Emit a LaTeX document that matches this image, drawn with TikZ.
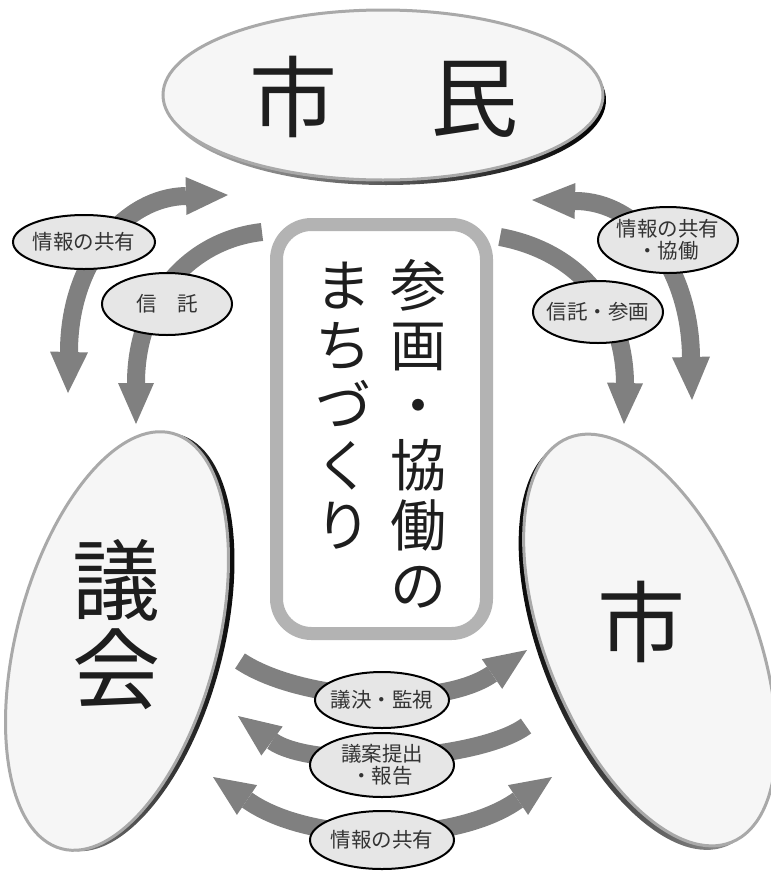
\documentclass[tikz,border=0pt]{standalone}
\usepackage{fontspec}
\newfontfamily\jp{Noto Sans CJK JP}
\usetikzlibrary{shapes.geometric,calc}
\definecolor{arrowgray}{HTML}{808080}
\definecolor{rimgray}{HTML}{A9A9A9}
\definecolor{discfill}{HTML}{F6F6F6}
\definecolor{labelfill}{HTML}{E6E6E6}
\definecolor{boxgray}{HTML}{B3B3B3}
\definecolor{txt}{HTML}{1E1E1E}
\definecolor{labeltxt}{HTML}{333333}
\tikzset{
  disc/.style={ellipse, draw=rimgray, line width=3pt, fill=discfill, inner sep=0pt, outer sep=0pt},
  discrim/.style={ellipse, inner sep=0pt, outer sep=0pt},
  bigtext/.style={font=\jp\fontsize{88}{88}\selectfont, text=txt, inner sep=0pt, text height=77pt, text depth=11pt},
  coltext/.style={font=\jp\fontsize{56}{56}\selectfont, text=txt, inner sep=0pt, text height=49pt, text depth=7pt},
  lbl/.style={ellipse, draw=black, line width=2pt, fill=labelfill, inner sep=0pt},
  lbltxt/.style={font=\jp\fontsize{20.5}{22}\selectfont, text=labeltxt, align=center, inner sep=0pt},
  shaft/.style={draw=arrowgray, line width=18pt},
}
\newcommand\ahead[3]{\fill[arrowgray] (#1) -- ($(#2)!#3!90:(#1)$) -- ($(#2)!#3!-90:(#1)$) -- cycle;}
\begin{document}
\begin{tikzpicture}[x=1pt,y=-1pt]
\useasboundingbox (0,0) rectangle (771,873);
% ---- big discs ----
\node[discrim, shade, left color=gray!60, right color=black, minimum width=440pt, minimum height=170pt] (rimTop) at (386,100) {};
\node[disc, minimum width=440pt, minimum height=170pt] (shimin) at (383,95) {};
\node[discrim, rotate=75, shade, left color=gray!60, right color=black, minimum width=430pt, minimum height=200pt] (rimLeft) at (123,642) {};
\node[disc, rotate=75, minimum width=430pt, minimum height=200pt] (gikai) at (117,641) {};
\node[discrim, rotate=112, shade, left color=black, right color=gray!60, minimum width=436pt, minimum height=208pt] (rimRight) at (645,644) {};
\node[disc, rotate=112, minimum width=436pt, minimum height=208pt] (shi) at (650,640) {};
\node[bigtext] (t1) at (293,97) {市};
\node[bigtext] (t2) at (474,97) {民};
\node[bigtext] (g1) at (116,580) {議};
\node[bigtext] (g2) at (116,669) {会};
\node[bigtext] (s1) at (641,622) {市};
% ---- centre box ----
\node[draw=boxgray, line width=13pt, rounded corners=35pt, fill=white, minimum width=210pt, minimum height=409pt, inner sep=0pt] (box) at (381.5,429) {};
\foreach \c [count=\i from 0] in {参,画,・,協,働,の}
  \node[coltext] (r\i) at (418,{285+60*\i}) {\c};
\foreach \c [count=\i from 0] in {ま,ち,づ,く,り}
  \node[coltext] (m\i) at (343,{285+60*\i}) {\c};
% ---- arrows ----
\coordinate (a1t1) at (68,393); \coordinate (a1b1) at (69,352);
\coordinate (a1t2) at (228,195); \coordinate (a1b2) at (186,196);
\draw[shaft] (a1b1) .. controls (69,262) and (125,197) .. (a1b2);
\ahead{a1t1}{a1b1}{19pt}\ahead{a1t2}{a1b2}{19pt}
\coordinate (a2tail) at (262,232); \coordinate (a2b) at (136,383); \coordinate (a2t) at (136,424);
\draw[shaft] (a2tail) .. controls (190,240) and (136,300) .. (a2b);
\ahead{a2t}{a2b}{18pt}
\coordinate (a3t1) at (532,200); \coordinate (a3b1) at (575,201);
\coordinate (a3t2) at (692,400); \coordinate (a3b2) at (691,357);
\draw[shaft] (a3b1) .. controls (640,201) and (690,270) .. (a3b2);
\ahead{a3t1}{a3b1}{18pt}\ahead{a3t2}{a3b2}{19pt}
\coordinate (a4tail) at (500,237); \coordinate (a4b) at (625,383); \coordinate (a4t) at (624,424);
\draw[shaft] (a4tail) .. controls (570,250) and (624,300) .. (a4b);
\ahead{a4t}{a4b}{18pt}
\coordinate (b1tail) at (240,661); \coordinate (b1b) at (492,674); \coordinate (b1t) at (527,650);
\draw[shaft] (b1tail) .. controls (300,701) and (440,710) .. (b1b);
\ahead{b1t}{b1b}{18pt}
\coordinate (b2tail) at (526,726); \coordinate (b2b) at (272,741); \coordinate (b2t) at (238,716);
\draw[shaft] (b2tail) .. controls (480,760) and (315,771) .. (b2b);
\ahead{b2t}{b2b}{18pt}
\coordinate (b3t1) at (213,777); \coordinate (b3b1) at (247,800);
\coordinate (b3t2) at (552,777); \coordinate (b3b2) at (518,800);
\draw[shaft] (b3b1) .. controls (310,845) and (455,845) .. (b3b2);
\ahead{b3t1}{b3b1}{18pt}\ahead{b3t2}{b3b2}{18pt}
% ---- labels ----
\node[lbl, minimum width=142pt, minimum height=54pt] (l1) at (84,242) {};
\node[lbltxt] (l1t) at (l1.center) {情報の共有};
\node[lbl, minimum width=130pt, minimum height=62pt] (l2) at (167,304) {};
\node[lbltxt] (l2t) at (l2.center) {信　託};
\node[lbl, minimum width=140pt, minimum height=66pt] (l3) at (668,240) {};
\node[lbltxt] (l3t) at (l3.center) {情報の共有\\・協働};
\node[lbl, minimum width=130pt, minimum height=62pt] (l4) at (598,312) {};
\node[lbltxt] (l4t) at (l4.center) {信託・参画};
\node[lbl, minimum width=134pt, minimum height=56pt] (l5) at (382,700) {};
\node[lbltxt] (l5t) at (l5.center) {議決・監視};
\node[lbl, minimum width=144pt, minimum height=64pt] (l6) at (382,765) {};
\node[lbltxt] (l6t) at (l6.center) {議案提出\\・報告};
\node[lbl, minimum width=144pt, minimum height=58pt] (l7) at (382,840) {};
\node[lbltxt] (l7t) at (l7.center) {情報の共有};
\end{tikzpicture}
\end{document}
